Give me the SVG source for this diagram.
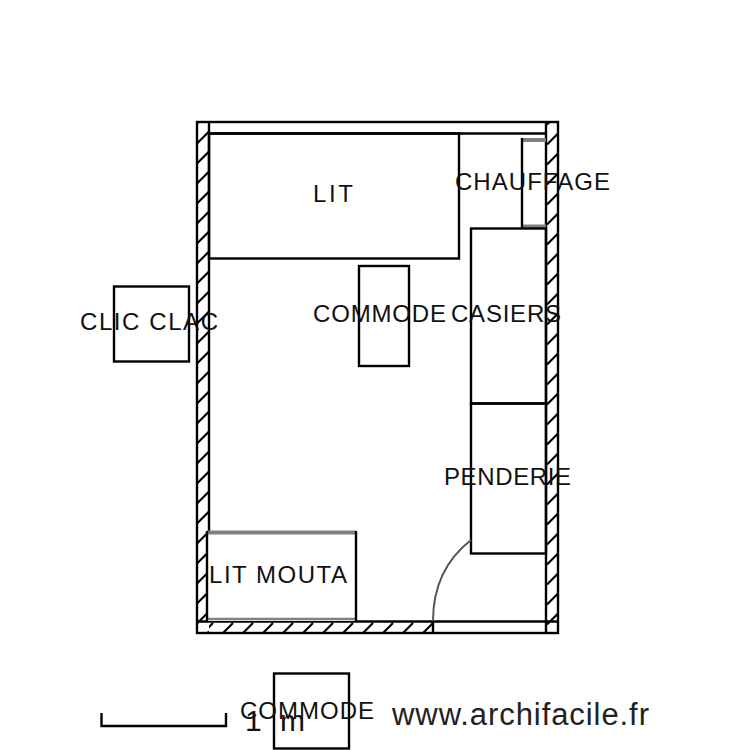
<svg xmlns="http://www.w3.org/2000/svg" width="750" height="750" viewBox="0 0 750 750">
<style>
.l{fill:none;stroke:#000;stroke-width:2.4}
.g{fill:none;stroke:#808080;stroke-width:4}
.t{font-family:"Liberation Sans",Arial,sans-serif;font-size:24px;fill:#111}
.h{stroke:#000;stroke-width:2.2}
</style>
<defs>
<pattern id="hv" patternUnits="userSpaceOnUse" x="196" y="130" width="13" height="20"><path class="h" d="M0 14.500L13 1.500"/></pattern>
<pattern id="hh" patternUnits="userSpaceOnUse" x="200" y="621" width="20" height="13"><path class="h" d="M3 12L13 2"/></pattern>
</defs>
<rect width="750" height="750" fill="#fff"/>
<g id="walls">
<rect x="197" y="122" width="12" height="511" fill="url(#hv)"/>
<rect x="547" y="122" width="11" height="511" fill="url(#hv)"/>
<rect x="209" y="622" width="224" height="11" fill="url(#hh)"/>
<rect class="l" x="197" y="122" width="361" height="511"/>
<path class="l" d="M209 122V532M546 122V633M209 133.500H546M197 621.500H558M433 621.500V633"/>
</g>
<g id="lit"><rect class="l" x="209" y="133.500" width="250" height="125"/><text class="t" x="333" y="202" text-anchor="middle" textLength="40">LIT</text></g>
<g id="chauffage"><path class="g" d="M522 140H546M522 226.500H546"/><path class="l" d="M522 138V228"/><text class="t" x="455" y="190" textLength="155">CHAUFFAGE</text></g>
<g id="casiers"><rect class="l" x="471" y="228.500" width="75" height="175"/><text class="t" x="451" y="322" textLength="110">CASIERS</text></g>
<g id="penderie"><rect class="l" x="471" y="403.500" width="75" height="150"/><text class="t" x="444" y="485" textLength="127">PENDERIE</text></g>
<g id="commode1"><rect class="l" x="359" y="266" width="50" height="100"/><text class="t" x="313" y="322" textLength="133">COMMODE</text></g>
<g id="clic-clac"><rect class="l" x="114" y="286.500" width="75" height="75"/><text class="t" x="80" y="330" textLength="138">CLIC CLAC</text></g>
<g id="lit-mouta"><rect x="207" y="532" width="149" height="89" fill="#fff"/><path class="g" d="M207 532.500H356"/><path class="g" style="stroke-width:2.500" d="M207 619H356"/><path class="l" d="M356 531V621M207 531V621"/><text class="t" x="209" y="583" textLength="138">LIT MOUTA</text></g>
<g id="porte"><path d="M433 621C433 585 448 558 471 540" fill="none" stroke="#555" stroke-width="2"/></g>
<g id="commode2"><rect class="l" x="274" y="673.500" width="75" height="75"/><text class="t" x="240" y="719" textLength="134">COMMODE</text></g>
<g id="echelle"><path class="l" d="M101.500 713V726H226V713"/><text class="t" x="245" y="731" style="font-size:30px" textLength="60">1 m</text>
<text class="t" x="392" y="725" style="font-size:31px;fill:#222" textLength="257">www.archifacile.fr</text></g>
</svg>
